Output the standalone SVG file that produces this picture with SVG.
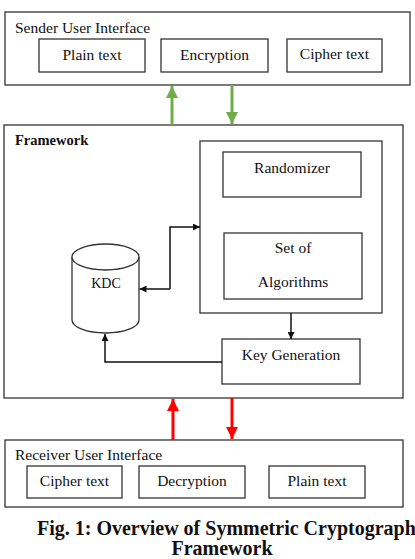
<svg xmlns="http://www.w3.org/2000/svg" width="415" height="559" viewBox="0 0 415 559">
<defs>
<style>
.box{fill:#fff;stroke:#333;stroke-width:1.3}
.t{font-family:"Liberation Serif","Times New Roman",serif;font-size:15.5px;fill:#111}
.c{text-anchor:middle}
.ln{fill:none;stroke:#111;stroke-width:1.5}
.g{fill:none;stroke:#70ad47;stroke-width:3}
.r{fill:none;stroke:#f00;stroke-width:3}
.cap{font-family:"Liberation Serif","Times New Roman",serif;font-size:20px;font-weight:bold;fill:#111}
</style>
<marker id="ab" viewBox="0 0 10 10" refX="10" refY="5" markerWidth="7" markerHeight="7" markerUnits="userSpaceOnUse" orient="auto"><path d="M0,0L10,5L0,10z" fill="#111"/></marker>
<marker id="ag" viewBox="0 0 10 10" refX="10" refY="5" markerWidth="4" markerHeight="4" orient="auto"><path d="M0,0L10,5L0,10z" fill="#70ad47"/></marker>
<marker id="ar" viewBox="0 0 10 10" refX="10" refY="5" markerWidth="4" markerHeight="4" orient="auto"><path d="M0,0L10,5L0,10z" fill="#f00"/></marker>
</defs>
<rect width="415" height="559" fill="#fff"/>
<g id="sender">
<rect class="box" x="5" y="12" width="405" height="73"/>
<text class="t" x="15" y="33">Sender User Interface</text>
</g>
<g id="s-plain"><rect class="box" x="39" y="39" width="106" height="33"/><text class="t c" x="92" y="60">Plain text</text></g>
<g id="s-enc"><rect class="box" x="161" y="39" width="107" height="33"/><text class="t c" x="214.5" y="60">Encryption</text></g>
<g id="s-cipher"><rect class="box" x="287" y="39" width="95" height="33"/><text class="t c" x="334.5" y="59">Cipher text</text></g>
<g id="framework">
<rect class="box" x="4" y="125" width="399" height="273"/>
<text class="t" x="15" y="145" style="font-weight:bold;font-size:14.5px">Framework</text>
</g>
<g id="inner"><rect class="box" x="200" y="141" width="182" height="172"/></g>
<g id="randomizer"><rect class="box" x="223" y="152" width="138" height="45"/><text class="t c" x="292" y="173">Randomizer</text></g>
<g id="algorithms"><rect class="box" x="224" y="233" width="138" height="66"/><text class="t c" x="293" y="253">Set of</text><text class="t c" x="293" y="287">Algorithms</text></g>
<g id="kdc">
<path class="box" d="M72,257 L72,320 A33.5,13 0 0 0 139,320 L139,257"/>
<ellipse class="box" cx="105.5" cy="257" rx="33.5" ry="13"/>
<text class="t c" x="106" y="288" style="font-size:14px">KDC</text>
</g>
<g id="keygen"><rect class="box" x="222" y="339" width="138" height="45"/><text class="t c" x="291" y="360">Key Generation</text></g>
<g id="receiver">
<rect class="box" x="5" y="440" width="398" height="67"/>
<text class="t" x="15" y="460">Receiver User Interface</text>
</g>
<g id="r-cipher"><rect class="box" x="27" y="466" width="95" height="32"/><text class="t c" x="74.5" y="486">Cipher text</text></g>
<g id="r-dec"><rect class="box" x="139" y="466" width="106" height="32"/><text class="t c" x="192" y="486">Decryption</text></g>
<g id="r-plain"><rect class="box" x="269" y="466" width="96" height="32"/><text class="t c" x="317" y="486">Plain text</text></g>
<g id="connectors">
<path class="g" d="M172,125 L172,86" marker-end="url(#ag)"/>
<path class="g" d="M232,85 L232,124" marker-end="url(#ag)"/>
<path class="r" d="M173,440 L173,399" marker-end="url(#ar)"/>
<path class="r" d="M232,398 L232,439" marker-end="url(#ar)"/>
<path class="ln" d="M170,289 L170,227 L200,227" marker-end="url(#ab)"/>
<path class="ln" d="M170,289 L139.5,289" marker-end="url(#ab)"/>
<path class="ln" d="M291,313 L291,339" marker-end="url(#ab)"/>
<path class="ln" d="M222,362 L105,362 L105,334" marker-end="url(#ab)"/>
</g>
<g id="caption">
<text class="cap" x="37" y="535">Fig. 1: Overview of Symmetric Cryptography</text>
<text class="cap c" x="222" y="555">Framework</text>
</g>
</svg>
